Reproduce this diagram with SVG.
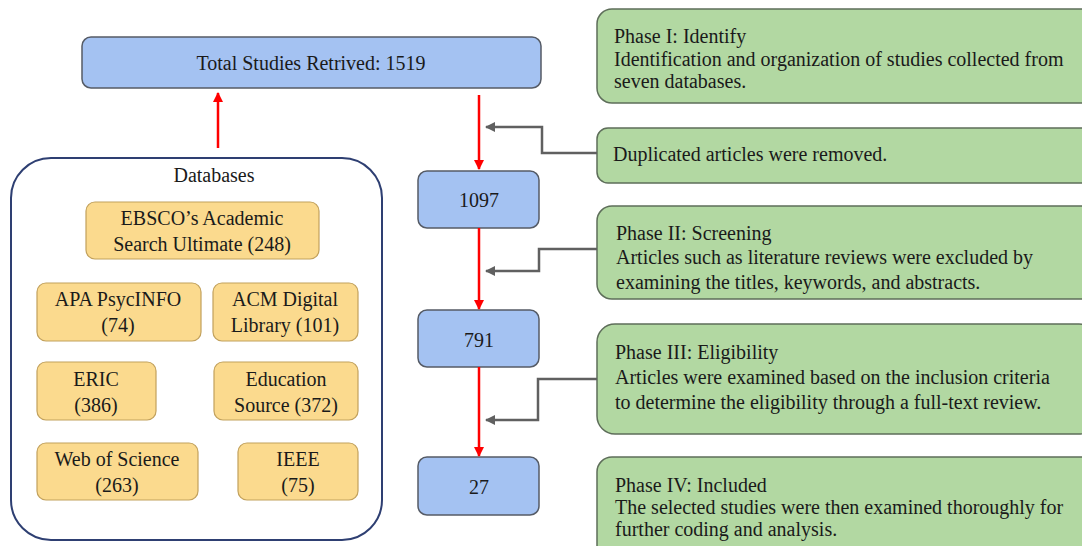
<svg xmlns="http://www.w3.org/2000/svg" width="1082" height="546" viewBox="0 0 1082 546" font-family="'Liberation Serif', 'DejaVu Serif', serif">
<defs>
<style>
text{font-family:'Liberation Serif','DejaVu Serif',serif;fill:#1a1a1a;font-size:20px;}
.blue{fill:#A4C2F2;stroke:#555B66;stroke-width:1.5;}
.yel{fill:#FBDA8E;stroke:#C2A15C;stroke-width:1.2;}
.grn{fill:#B2D8A2;stroke:#5E6E5A;stroke-width:1.5;}
.c{text-anchor:middle;}
.red{stroke:#FF0000;stroke-width:2.5;fill:none;}
.gry{stroke:#606060;stroke-width:2.5;fill:none;}
</style>
<marker id="ar" viewBox="0 0 10 10" refX="9" refY="5" markerWidth="4.5" markerHeight="4" orient="auto" markerUnits="strokeWidth">
<path d="M0,0 L10,5 L0,10 z" fill="#FF0000"/>
</marker>
<marker id="ag" viewBox="0 0 10 10" refX="9" refY="5" markerWidth="4.5" markerHeight="4" orient="auto" markerUnits="strokeWidth">
<path d="M0,0 L10,5 L0,10 z" fill="#606060"/>
</marker>
</defs>
<rect width="1082" height="546" fill="#FFFFFF"/>

<g id="total">
<rect class="blue" x="82" y="37" width="459" height="51" rx="9"/>
<text class="c" x="311" y="70">Total Studies Retrived: 1519</text>
</g>

<g id="databases">
<rect x="11" y="158" width="371" height="382" rx="40" fill="#FFFFFF" stroke="#2E3F72" stroke-width="2"/>
<text class="c" x="214" y="182">Databases</text>
</g>
<g id="ebsco">
<rect class="yel" x="86" y="202" width="233" height="57" rx="9"/>
<text class="c" x="202" y="225">EBSCO’s Academic</text>
<text class="c" x="202" y="251">Search Ultimate (248)</text>
</g>
<g id="apa">
<rect class="yel" x="37" y="283" width="164" height="58" rx="9"/>
<text class="c" x="118" y="306">APA PsycINFO</text>
<text class="c" x="118" y="332">(74)</text>
</g>
<g id="acm">
<rect class="yel" x="213" y="283" width="145" height="58" rx="9"/>
<text class="c" x="285" y="306">ACM Digital</text>
<text class="c" x="285" y="332">Library (101)</text>
</g>
<g id="eric">
<rect class="yel" x="37" y="362" width="119" height="58" rx="9"/>
<text class="c" x="96" y="386">ERIC</text>
<text class="c" x="96" y="412">(386)</text>
</g>
<g id="edu">
<rect class="yel" x="214" y="362" width="144" height="58" rx="9"/>
<text class="c" x="286" y="386">Education</text>
<text class="c" x="286" y="412">Source (372)</text>
</g>
<g id="wos">
<rect class="yel" x="37" y="443" width="161" height="57" rx="9"/>
<text class="c" x="117" y="466">Web of Science</text>
<text class="c" x="117" y="492">(263)</text>
</g>
<g id="ieee">
<rect class="yel" x="238" y="443" width="120" height="57" rx="9"/>
<text class="c" x="298" y="466">IEEE</text>
<text class="c" x="298" y="492">(75)</text>
</g>

<g id="n1097">
<rect class="blue" x="418" y="171" width="121" height="57" rx="9"/>
<text class="c" x="479" y="207">1097</text>
</g>
<g id="n791">
<rect class="blue" x="418" y="310" width="121" height="57" rx="9"/>
<text class="c" x="479" y="347">791</text>
</g>
<g id="n27">
<rect class="blue" x="418" y="457" width="121" height="58" rx="9"/>
<text class="c" x="479" y="494">27</text>
</g>

<g id="phase1">
<rect class="grn" x="597" y="9" width="500" height="94" rx="15"/>
<text x="614" y="43">Phase I: Identify</text>
<text x="614" y="66">Identification and organization of studies collected from</text>
<text x="614" y="88">seven databases.</text>
</g>
<g id="dup">
<rect class="grn" x="597" y="128" width="500" height="55" rx="11"/>
<text x="613" y="161">Duplicated articles were removed.</text>
</g>
<g id="phase2">
<rect class="grn" x="597" y="206" width="500" height="93" rx="15"/>
<text x="616" y="240">Phase II: Screening</text>
<text x="616" y="264">Articles such as literature reviews were excluded by</text>
<text x="616" y="289">examining the titles, keywords, and abstracts.</text>
</g>
<g id="phase3">
<rect class="grn" x="597" y="324" width="500" height="110" rx="18"/>
<text x="615" y="359">Phase III: Eligibility</text>
<text x="615" y="384">Articles were examined based on the inclusion criteria</text>
<text x="615" y="409">to determine the eligibility through a full-text review.</text>
</g>
<g id="phase4">
<rect class="grn" x="597" y="457" width="500" height="110" rx="15"/>
<text x="615" y="492">Phase IV: Included</text>
<text x="615" y="514">The selected studies were then examined thoroughly for</text>
<text x="615" y="536">further coding and analysis.</text>
</g>

<g id="connectors">
<line class="red" x1="218" y1="148" x2="218" y2="93" marker-end="url(#ar)"/>
<line class="red" x1="479" y1="95" x2="479" y2="169" marker-end="url(#ar)"/>
<line class="red" x1="479" y1="228" x2="479" y2="309" marker-end="url(#ar)"/>
<line class="red" x1="479" y1="367" x2="479" y2="456" marker-end="url(#ar)"/>
<polyline class="gry" points="597,153 542,153 542,127 486,127" marker-end="url(#ag)"/>
<polyline class="gry" points="597,249 539,249 539,271 486,271" marker-end="url(#ag)"/>
<polyline class="gry" points="597,379 538,379 538,420 486,420" marker-end="url(#ag)"/>
</g>
</svg>
